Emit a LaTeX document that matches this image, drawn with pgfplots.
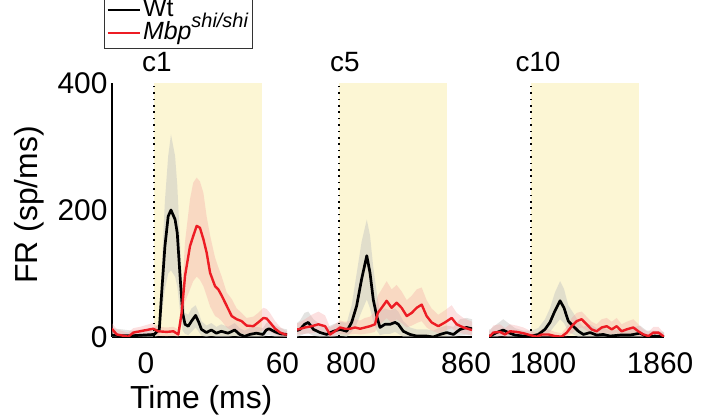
\documentclass[border=0pt]{standalone}
\usepackage{pgfplots}
\pgfplotsset{compat=1.18}
\usepackage{pgfplotstable}
\usepgfplotslibrary{fillbetween}
\usepackage{fontspec}
\setmainfont{Liberation Sans}

\definecolor{stimbg}{RGB}{252,246,212}
\definecolor{wtband}{RGB}{200,200,195}
\definecolor{mbpband}{RGB}{245,160,160}
\definecolor{mbpred}{RGB}{237,28,36}

% t, mean, lower, upper  (sp/ms)
\pgfplotstableread{
t y lo hi
-19.5 3 0 14
-15 2 0 12
-10 2 0 10
-5 3 0 12
0 4 0 14
2.4 12 2 22
3.5 70 35 110
5.0 143 75 215
6.5 190 100 285
7.8 200 105 319
9.7 185 95 285
10.7 164 80 240
12.0 96 40 150
13.2 38 10 70
14.3 20 5 38
15.8 17 3 35
17.3 25 8 45
19.2 34 15 50
20.7 23 8 38
21.9 12 2 25
24.2 7 0 18
26.5 11 2 22
28.8 6 0 16
31.1 9 0 20
34.2 6 0 16
37.3 11 2 22
39.6 4 0 14
41.9 1 0 10
44.2 4 0 14
47.3 6 0 16
50.4 4 0 14
51.9 11 2 22
53.2 13 3 24
56.0 8 0 18
58.5 5 0 14
61.5 4 0 12
}\wtA
\pgfplotstableread{
t y lo hi
-19.6 13 5 22
-17.3 4 0 12
-14.3 2 0 9
-12.0 0.5 0 7
-9.6 7 1 14
-6.5 9 2 16
-3.5 11 3 19
-0.4 13 5 22
1.9 9 2 16
5.8 8 1 15
8.9 9 2 16
11.2 4 0 12
12.75 38 20 60
14.3 96 55 150
16.6 143 75 217
18.1 159 88 243
19.7 175 95 251
21.2 172 90 245
22.8 154 80 227
24.3 133 65 190
25.9 101 48 160
28.2 80 33 125
29.7 75 30 110
31.3 65 25 95
33.6 49 15 70
35.9 33 10 60
38.2 28 8 45
40.5 25 6 38
42.8 18 4 30
45.9 17 4 32
48.2 23 8 38
50.6 30 10 46
52.1 29 10 44
53.6 23 8 38
56.0 13 4 25
58.3 7 1 16
60.6 4 0 10
61.5 4 0 10
}\mbpA
\pgfplotstableread{
t y lo hi
780.5 10 0 22
781.9 12 2 26
784.0 20 5 38
785.7 23 6 40
788.1 12 2 28
791.2 7 0 20
794.2 4 0 15
797.3 9 0 20
800.4 12 2 24
803.5 9 0 22
805.8 23 8 50
808.1 49 20 100
810.4 91 40 150
812.8 128 59 185
814.3 101 45 160
815.8 59 25 110
817.4 33 10 70
818.9 15 3 40
821.2 20 5 45
823.6 20 5 42
825.9 23 8 45
827.4 20 5 40
829.7 9 0 25
832.8 4 0 15
835.9 1.5 0 12
840.5 1.5 0 12
843.6 0 0 10
846.7 4 0 15
849.8 7 0 18
852.9 4 0 16
856.0 12 2 28
859.0 15 3 30
861.5 13 2 28
}\wtB
\pgfplotstableread{
t y lo hi
780.5 12 4 22
781.1 12 4 22
784.2 15 5 28
787.3 17 6 35
790.4 20 8 40
793.5 17 6 34
795.8 4 0 15
798.1 9 2 20
800.4 15 5 26
802.7 13 4 24
805.0 13 4 25
807.4 15 5 28
809.7 13 4 26
812.0 15 5 30
814.3 17 6 32
816.6 20 8 40
817.9 38 18 65
819.7 46 22 75
822.0 57 30 88
824.3 46 22 75
826.6 54 28 82
828.9 46 22 72
831.3 33 15 58
833.6 38 18 65
835.9 46 22 75
838.2 51 25 78
840.5 33 15 58
842.8 23 10 45
845.9 17 6 35
849.0 23 10 42
852.1 30 14 50
854.4 20 8 38
857.5 15 5 30
861.5 11 3 24
}\mbpB
\pgfplotstableread{
t y lo hi
1780.5 1.5 0 12
1781.0 1.5 0 12
1784.0 7 0 20
1787.1 11 2 28
1789.4 7 0 22
1792.5 3 0 14
1796.4 1.5 0 10
1800.2 1.5 0 10
1803.3 4 0 14
1806.4 12 3 28
1808.7 23 8 45
1811.0 41 18 70
1813.4 57 28 88
1815.2 46 22 76
1817.2 25 8 50
1819.5 17 4 38
1821.9 9 0 25
1824.2 4 0 16
1827.3 7 0 20
1830.3 3 0 14
1833.4 4 0 15
1836.5 1.5 0 10
1841.1 3 0 12
1845.8 3 0 14
1850.4 6 0 18
1853.5 0.5 0 10
1857.3 1.5 0 10
1861.5 0.5 0 8
}\wtC
\pgfplotstableread{
t y lo hi
1780.5 1.5 0 10
1781.0 1.5 0 10
1782.5 7 1 18
1785.6 8 2 20
1787.9 4 0 14
1790.2 9 2 20
1793.3 8 2 18
1796.4 6 1 15
1799.5 3 0 10
1802.6 0.5 0 6
1804.9 4 0 12
1808.0 4 0 12
1811.0 1.5 0 8
1814.1 0.5 0 6
1816.5 7 1 16
1818.8 17 6 30
1821.1 25 12 38
1823.4 28 15 40
1825.7 20 10 32
1828.0 12 4 24
1830.3 9 2 20
1832.7 15 5 28
1835.0 17 6 30
1837.3 12 4 24
1839.6 17 6 30
1841.9 9 2 20
1844.2 12 4 24
1847.3 15 5 28
1849.6 9 2 20
1851.9 4 0 12
1854.3 1.5 0 8
1856.6 7 1 16
1858.9 7 1 16
1861.5 0.5 0 6
}\mbpC

\pgfplotsset{
  panel/.style={
    set layers,
    scale only axis, width=175bp, height=254bp,
    ymin=0, ymax=400,
    axis x line*=bottom,
    axis line style={line width=1.2bp, black},
    every axis plot/.append style={line join=round},
    /pgf/number format/assume math mode=true,
    tick label style={font=\fontsize{30}{30}\selectfont},
    xticklabel style={anchor=base, yshift=-37bp},
    major tick length=0pt,
    title style={font=\fontsize{28}{28}\selectfont, anchor=base, yshift=6bp},
    legend image code/.code={\path (0bp,0bp) -- (32bp,0bp); \draw[##1] (7bp,0bp) -- (29bp,0bp);},
  },
  stim/.style={fill=stimbg, draw=none, forget plot, on layer=axis background},
  onset/.style={black, line width=1.6bp, dash pattern=on 1.6bp off 4.8bp, forget plot},
  bnd/.style={draw=none, forget plot},
  wtline/.style={black, line width=2.7bp},
  mbpline/.style={mbpred, line width=2.4bp},
}

% draws the shaded bands of one panel
\newcommand{\panelplots}[2]{%
  \addplot[bnd, name path=wh] table[x=t,y=hi]{#1};
  \addplot[bnd, name path=wl] table[x=t,y=lo]{#1};
  \addplot[fill=wtband, fill opacity=0.5, draw=none, forget plot] fill between[of=wh and wl];
  \addplot[bnd, name path=mh] table[x=t,y=hi]{#2};
  \addplot[bnd, name path=ml] table[x=t,y=lo]{#2};
  \addplot[fill=mbpband, fill opacity=0.33, draw=none, forget plot] fill between[of=mh and ml];
}

\begin{document}
\begin{tikzpicture}[x=1bp,y=1bp]

\begin{axis}[panel, at={(112bp,83bp)}, anchor=south west,
  xmin=-19.5, xmax=61.5,
  axis y line*=left, ytick={0,200,400},
  yticklabel style={anchor=east, xshift=-1bp},
  xtick={-3.8,59.4}, xticklabels={0,60},
  title={c1}, title style={at={(axis description cs:0.257,1)}},
  xlabel={Time (ms)},
  xlabel style={font=\fontsize{32}{32}\selectfont, at={(axis description cs:0.51,0)}, anchor=base, yshift=-71bp},
  ylabel={FR (sp/ms)},
  ylabel style={font=\fontsize{32}{32}\selectfont, at={(axis description cs:-0.474,0.52)}, anchor=center},
  legend style={at={(axis description cs:-0.046,1.134)}, anchor=south west,
    draw=black!80, line width=0.8bp, fill=white,
    font=\fontsize{25}{25}\selectfont, legend cell align=left,
    nodes={inner ysep=0bp, text height=18bp, text depth=5bp},
    inner xsep=2bp, inner ysep=4bp, row sep=0bp},
]
\addplot[stim] coordinates {(0,400) (50,400)} \closedcycle;
\panelplots{\wtA}{\mbpA}
\addplot[onset] coordinates {(0,0) (0,400)};
\addplot[wtline] table[x=t,y=y]{\wtA};
\addlegendentry{Wt}
\addplot[mbpline] table[x=t,y=y]{\mbpA};
\addlegendentry{\textit{Mbp}\smash{\raisebox{0.5em}{\fontsize{20}{20}\selectfont\textit{shi/shi}}}}
\end{axis}

\begin{axis}[panel, at={(297bp,83bp)}, anchor=south west,
  xmin=780.5, xmax=861.5,
  axis y line=none,
  xtick={805.5,858.7}, xticklabels={800,860},
  title={c5}, title style={at={(axis description cs:0.274,1)}},
]
\addplot[stim] coordinates {(800,400) (850,400)} \closedcycle;
\panelplots{\wtB}{\mbpB}
\addplot[onset] coordinates {(800,0) (800,400)};
\addplot[wtline] table[x=t,y=y]{\wtB};
\addplot[mbpline] table[x=t,y=y]{\mbpB};
\end{axis}

\begin{axis}[panel, at={(489bp,83bp)}, anchor=south west,
  xmin=1780.5, xmax=1861.5,
  axis y line=none,
  xtick={1805.5,1859.7}, xticklabels={1800,1860},
  title={c10}, title style={at={(axis description cs:0.28,1)}},
]
\addplot[stim] coordinates {(1800,400) (1850,400)} \closedcycle;
\panelplots{\wtC}{\mbpC}
\addplot[onset] coordinates {(1800,0) (1800,400)};
\addplot[wtline] table[x=t,y=y]{\wtC};
\addplot[mbpline] table[x=t,y=y]{\mbpC};
\end{axis}

\pgfresetboundingbox
\path[use as bounding box] (0bp,0bp) rectangle (702bp,420bp);
\end{tikzpicture}
\end{document}
